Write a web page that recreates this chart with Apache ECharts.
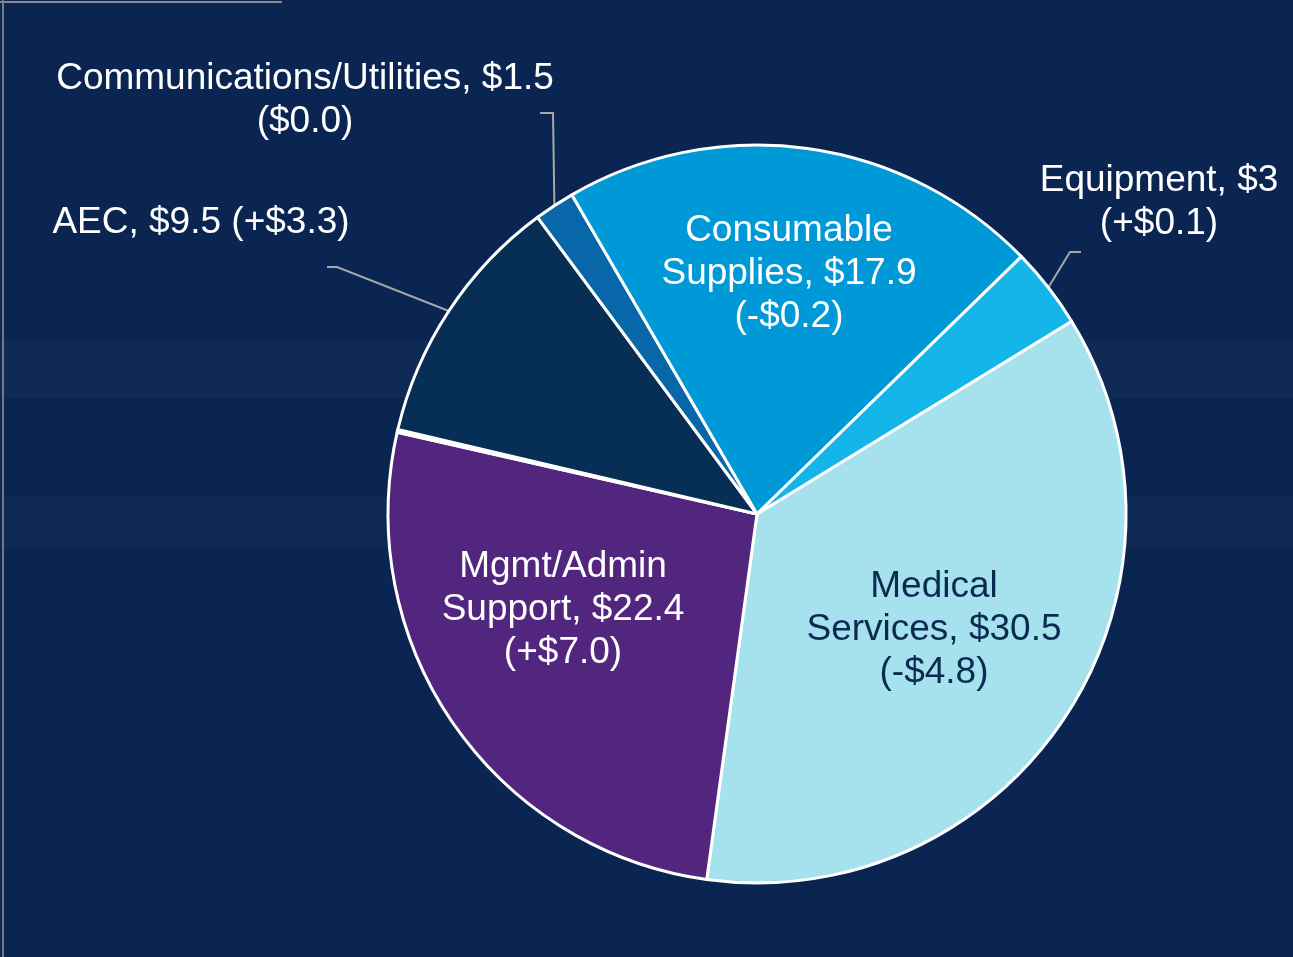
<!DOCTYPE html>
<html>
<head>
<meta charset="utf-8">
<script src="https://cdn.jsdelivr.net/npm/echarts@6/dist/echarts.min.js"></script>
<style>
	html, body { margin: 0; padding: 0; background: #0b2552; }
	#costPie { width: 1293px; height: 957px; }
</style>
</head>
<body>
<div id="costPie"></div>
<script>
// slices in clockwise order, starting with Medical Services
let names = ["Medical\nServices", "Mgmt/Admin\nSupport", "", "AEC", "Communications/Utilities", "Consumable\nSupplies", "Equipment"];
let values = [30.5, 22.4, 0.1, 9.5, 1.5, 17.9, 3];
let deltas = ["(-$4.8)", "(+$7.0)", "", "(+$3.3)", "($0.0)", "(-$0.2)", "(+$0.1)"];
let colors = ["#a6e1ee", "#52267f", "#0a2d55", "#072f56", "#0867a9", "#0099d8", "#14b5e9"];

// label placement (px) and leader line bends, by slice index
let labelPos = {
	0: { x: 934, y: 630, color: "#0b2a52", sep: "\n" },
	1: { x: 563, y: 610, color: "#ffffff", sep: "\n" },
	3: { x: 201, y: 223, color: "#ffffff", sep: " ", bend: [[337, 267], [327, 267]] },
	4: { x: 305, y: 100, color: "#ffffff", sep: "\n", bend: [[553, 113], [540, 113]] },
	5: { x: 789, y: 274, color: "#ffffff", sep: "\n" },
	6: { x: 1159, y: 202, color: "#ffffff", sep: "\n", bend: [[1070, 252], [1081, 252]] },
};

function costPieChart() {
	let dom = document.getElementById("costPie");
	let myChart = echarts.init(dom, null, { renderer: "canvas" });

	let data = values.map(function (v, i) {
		let pos = labelPos[i];
		let item = {
			name: names[i],
			value: v,
			itemStyle: { color: colors[i] },
		};
		if (!pos) {
			item.label = { show: false };
			item.labelLine = { show: false };
		} else {
			item.label = {
				show: true,
				position: pos.bend ? "outside" : "inside",
				color: pos.color,
				formatter: names[i] + ", $" + v + pos.sep + deltas[i],
			};
			item.labelLine = { show: !!pos.bend };
		}
		return item;
	});

	let option = {
		backgroundColor: "#0b2552",
		animation: false,
		graphic: [
			{ type: "rect", shape: { x: 0, y: 340, width: 1293, height: 58 }, style: { fill: "rgba(255,255,255,0.025)" }, z: -1 },
			{ type: "rect", shape: { x: 0, y: 497, width: 1293, height: 52 }, style: { fill: "rgba(255,255,255,0.02)" }, z: -1 },
			{ type: "line", shape: { x1: 0, y1: 2, x2: 282, y2: 2 }, style: { stroke: "#8a8a8a", lineWidth: 2 } },
			{ type: "line", shape: { x1: 3, y1: 0, x2: 3, y2: 957 }, style: { stroke: "#6f7a8a", lineWidth: 2 } },
		],
		series: [
			{
				type: "pie",
				center: [757, 514],
				radius: 369,
				startAngle: 31.5,
				clockwise: true,
				avoidLabelOverlap: false,
				data: data,
				itemStyle: {
					borderColor: "#ffffff",
					borderWidth: 3,
				},
				label: {
					fontFamily: "Liberation Sans, Arial, sans-serif",
					fontSize: 37,
					lineHeight: 43,
					align: "center",
				},
				labelLine: {
					lineStyle: { color: "#a6a6a6", width: 2 },
				},
				emphasis: { disabled: true },
				labelLayout: function (params) {
					let pos = labelPos[params.dataIndex];
					if (!pos) return {};
					let out = {
						x: pos.x,
						y: pos.y,
						align: "center",
						verticalAlign: "middle",
					};
					if (pos.bend && params.labelLinePoints) {
						out.labelLinePoints = [params.labelLinePoints[0]].concat(pos.bend);
					}
					return out;
				},
			},
		],
	};

	myChart.setOption(option);
	window.addEventListener("resize", myChart.resize);
}

(function init() {
	costPieChart();
})();
</script>
</body>
</html>
